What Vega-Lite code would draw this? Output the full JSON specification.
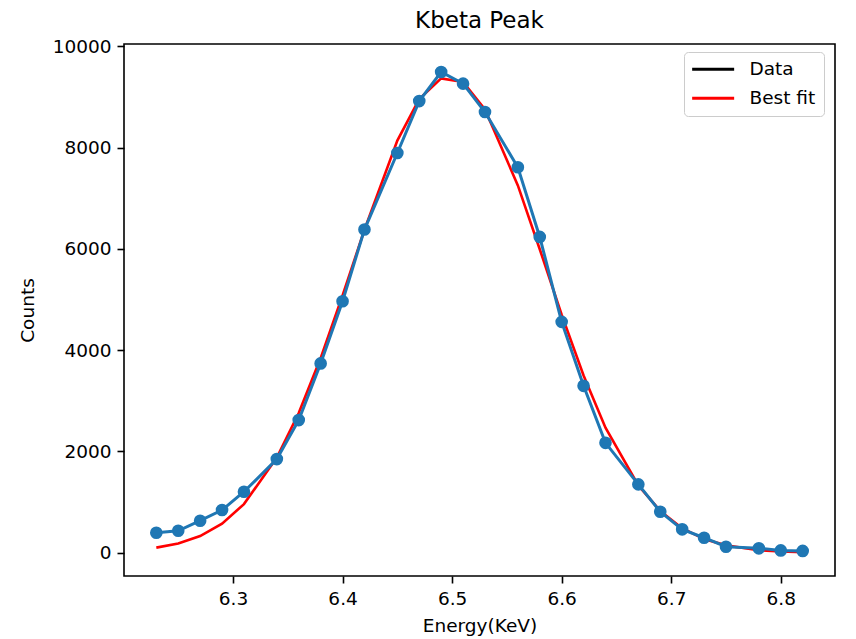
{
  "$schema": "https://vega.github.io/schema/vega-lite/v6.json",
  "autosize": {"type": "none"},
  "padding": {"left": 124, "top": 44, "right": 21, "bottom": 63},
  "width": 711,
  "height": 532,
  "background": "white",
  "title": {
    "text": "Kbeta Peak",
    "font": "DejaVu Sans",
    "fontSize": 23,
    "fontWeight": "normal",
    "color": "black",
    "anchor": "middle",
    "offset": 4
  },
  "datasets": {
    "measured": [
      {"energy": 6.23, "counts": 395},
      {"energy": 6.25, "counts": 434},
      {"energy": 6.27, "counts": 632},
      {"energy": 6.29, "counts": 843},
      {"energy": 6.31, "counts": 1204},
      {"energy": 6.34, "counts": 1850},
      {"energy": 6.36, "counts": 2620},
      {"energy": 6.38, "counts": 3739},
      {"energy": 6.40, "counts": 4968},
      {"energy": 6.42, "counts": 6384},
      {"energy": 6.45, "counts": 7896},
      {"energy": 6.47, "counts": 8922},
      {"energy": 6.49, "counts": 9495},
      {"energy": 6.51, "counts": 9266},
      {"energy": 6.53, "counts": 8705},
      {"energy": 6.56, "counts": 7614},
      {"energy": 6.58, "counts": 6238},
      {"energy": 6.60, "counts": 4560},
      {"energy": 6.62, "counts": 3297},
      {"energy": 6.64, "counts": 2171},
      {"energy": 6.67, "counts": 1350},
      {"energy": 6.69, "counts": 809},
      {"energy": 6.71, "counts": 462},
      {"energy": 6.73, "counts": 296},
      {"energy": 6.75, "counts": 118},
      {"energy": 6.78, "counts": 87},
      {"energy": 6.80, "counts": 45},
      {"energy": 6.82, "counts": 35}
    ],
    "fit": [
      {"energy": 6.23, "counts": 100, "series": "Best fit"},
      {"energy": 6.25, "counts": 180, "series": "Best fit"},
      {"energy": 6.27, "counts": 330, "series": "Best fit"},
      {"energy": 6.29, "counts": 575, "series": "Best fit"},
      {"energy": 6.31, "counts": 960, "series": "Best fit"},
      {"energy": 6.34, "counts": 1880, "series": "Best fit"},
      {"energy": 6.36, "counts": 2760, "series": "Best fit"},
      {"energy": 6.38, "counts": 3845, "series": "Best fit"},
      {"energy": 6.40, "counts": 5080, "series": "Best fit"},
      {"energy": 6.42, "counts": 6380, "series": "Best fit"},
      {"energy": 6.45, "counts": 8140, "series": "Best fit"},
      {"energy": 6.47, "counts": 8960, "series": "Best fit"},
      {"energy": 6.49, "counts": 9370, "series": "Best fit"},
      {"energy": 6.51, "counts": 9300, "series": "Best fit"},
      {"energy": 6.53, "counts": 8755, "series": "Best fit"},
      {"energy": 6.56, "counts": 7255, "series": "Best fit"},
      {"energy": 6.58, "counts": 5995, "series": "Best fit"},
      {"energy": 6.60, "counts": 4700, "series": "Best fit"},
      {"energy": 6.62, "counts": 3500, "series": "Best fit"},
      {"energy": 6.64, "counts": 2470, "series": "Best fit"},
      {"energy": 6.67, "counts": 1330, "series": "Best fit"},
      {"energy": 6.69, "counts": 825, "series": "Best fit"},
      {"energy": 6.71, "counts": 485, "series": "Best fit"},
      {"energy": 6.73, "counts": 270, "series": "Best fit"},
      {"energy": 6.75, "counts": 145, "series": "Best fit"},
      {"energy": 6.78, "counts": 50, "series": "Best fit"},
      {"energy": 6.80, "counts": 25, "series": "Best fit"},
      {"energy": 6.82, "counts": 10, "series": "Best fit"}
    ]
  },
  "encoding": {
    "x": {
      "field": "energy",
      "type": "quantitative",
      "scale": {"domain": [6.2005, 6.8495], "nice": false, "zero": false},
      "axis": {"title": "Energy(KeV)", "values": [6.3, 6.4, 6.5, 6.6, 6.7, 6.8], "format": ".1f", "titlePadding": 9}
    },
    "y": {
      "field": "counts",
      "type": "quantitative",
      "scale": {"domain": [-460, 10049], "nice": false, "zero": false},
      "axis": {"title": "Counts", "values": [0, 2000, 4000, 6000, 8000, 10000], "format": "d", "titlePadding": 15}
    }
  },
  "layer": [
    {
      "data": {"name": "fit"},
      "mark": {"type": "line", "strokeWidth": 2.6},
      "encoding": {
        "color": {
          "field": "series",
          "type": "nominal",
          "scale": {"domain": ["Data", "Best fit"], "range": ["black", "red"]},
          "legend": {
            "title": null,
            "orient": "none",
            "legendX": 560,
            "legendY": 8,
            "padding": 8,
            "strokeColor": "#cccccc",
            "fillColor": "rgba(255,255,255,0.8)",
            "cornerRadius": 4,
            "symbolType": "M-1.3,0H4.7",
            "symbolSize": 196,
            "symbolStrokeWidth": 3,
            "labelFontSize": 18.5,
            "labelFont": "DejaVu Sans",
            "labelColor": "black",
            "labelOffset": 39,
            "rowPadding": 10
          }
        }
      }
    },
    {
      "data": {"name": "measured"},
      "mark": {"type": "line", "color": "#1f77b4", "strokeWidth": 3}
    },
    {
      "data": {"name": "measured"},
      "mark": {"type": "point", "shape": "circle", "filled": true, "color": "#1f77b4", "opacity": 1, "size": 160}
    }
  ],
  "config": {
    "font": "DejaVu Sans",
    "view": {"stroke": "black", "strokeWidth": 1.6},
    "axis": {
      "domain": false,
      "grid": false,
      "ticks": true,
      "tickColor": "black",
      "tickWidth": 1.6,
      "tickSize": 7,
      "labelPadding": 6,
      "labelFont": "DejaVu Sans",
      "labelFontSize": 18.5,
      "labelColor": "black",
      "titleFont": "DejaVu Sans",
      "titleFontSize": 18.5,
      "titleFontWeight": "normal",
      "titleColor": "black"
    }
  }
}
